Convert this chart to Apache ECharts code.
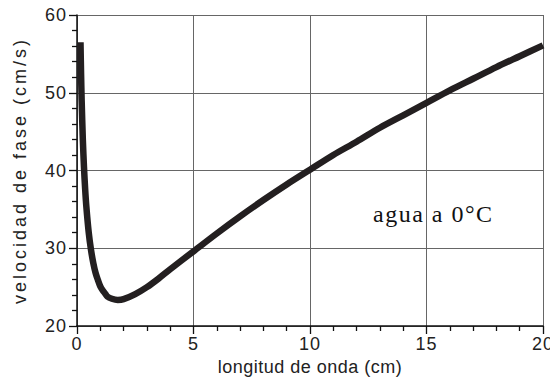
<!DOCTYPE html>
<html><head><meta charset="utf-8">
<script src="https://cdn.jsdelivr.net/npm/echarts@6/dist/echarts.min.js"></script>
<style>html,body{margin:0;padding:0;background:#fff}#c{width:550px;height:380px}</style>
</head><body><div id="c"></div>
<script>
// wavelength (cm)
const wavelength = [0.15, 0.175, 0.2, 0.25, 0.3, 0.35, 0.4, 0.5, 0.6, 0.7, 0.8, 0.9, 1.0, 1.1, 1.2, 1.3, 1.5, 1.75, 2.0, 2.5, 3, 3.5, 4, 5, 6, 7, 8, 9, 10, 11, 12, 13, 14, 15, 16, 17, 18, 19, 20];
// phase speed (cm/s)
const phaseSpeed = [56.5, 52.4, 49.0, 44.0, 40.4, 37.6, 35.4, 32.1, 29.8, 28.1, 26.8, 25.9, 25.1, 24.6, 24.2, 23.8, 23.5, 23.35, 23.45, 24.1, 25.0, 26.1, 27.3, 29.6, 31.9, 34.1, 36.2, 38.2, 40.1, 42.0, 43.7, 45.5, 47.1, 48.7, 50.3, 51.8, 53.3, 54.7, 56.1];
const xTickLabels = ['0', '5', '10', '15', '20'];
const yTickLabels = ['20', '30', '40', '50', '60'];
const xTitle = 'longitud de onda (cm)';
const yTitle = 'velocidad de fase (cm/s)';
const note = 'agua a 0°C';

const points = wavelength.map((w, i) => [w, phaseSpeed[i]]);
const chart = echarts.init(document.getElementById('c'), null, {renderer: 'svg'});
const tickFont = {color: '#222', fontFamily: 'Liberation Sans', fontSize: 18};
chart.setOption({
  animation: false,
  backgroundColor: '#fff',
  grid: {left: 77, right: 7, top: 15, bottom: 54, containLabel: false, outerBoundsMode: 'none'},
  xAxis: {
    type: 'value', min: 0, max: 20, interval: 5,
    name: xTitle, nameLocation: 'middle', nameGap: 30,
    nameTextStyle: {color: '#222', fontFamily: 'Liberation Sans', fontSize: 18},
    axisLine: {show: true, onZero: false, lineStyle: {color: '#111', width: 1.5}},
    axisTick: {show: true, inside: false, length: 8, lineStyle: {color: '#111', width: 1.3}},
    minorTick: {show: true, splitNumber: 5, length: 5, lineStyle: {color: '#111', width: 1.3}},
    axisLabel: Object.assign({margin: 9, formatter: v => xTickLabels[Math.round(v / 5)]}, tickFont),
    splitLine: {show: true, lineStyle: {color: '#666', width: 1}}
  },
  yAxis: {
    type: 'value', min: 20, max: 60, interval: 10,
    name: yTitle, nameLocation: 'middle', nameGap: 48,
    nameTextStyle: {color: '#222', fontFamily: 'Liberation Sans', fontSize: 18},
    axisLine: {show: true, onZero: false, lineStyle: {color: '#111', width: 1.5}},
    axisTick: {show: true, inside: false, length: 8, lineStyle: {color: '#111', width: 1.3}},
    minorTick: {show: true, splitNumber: 5, length: 5, lineStyle: {color: '#111', width: 1.3}},
    axisLabel: Object.assign({margin: 10, formatter: v => yTickLabels[Math.round((v - 20) / 10)]}, tickFont),
    splitLine: {show: true, lineStyle: {color: '#666', width: 1}}
  },
  series: [{
    type: 'line', data: points, smooth: 0.3, symbol: 'none', clip: false,
    lineStyle: {color: '#231f20', width: 6.5, cap: 'butt'}
  }],
  graphic: [{
    type: 'text', x: 373, y: 214, z: 10,
    style: {text: note, fill: '#111', font: '24px "Liberation Serif"', verticalAlign: 'middle', align: 'left'}
  }]
});
function spacing() {
  document.querySelectorAll('#c text').forEach(t => {
    const s = t.textContent;
    if (s === yTitle) t.setAttribute('letter-spacing', '3');
    else if (s === xTitle) t.setAttribute('letter-spacing', '0.5');
    else if (s === note) t.setAttribute('letter-spacing', '1.5');
    else t.setAttribute('letter-spacing', '1');
  });
}
spacing();
chart.on('finished', spacing);
setTimeout(spacing, 50);
</script>
</body></html>
